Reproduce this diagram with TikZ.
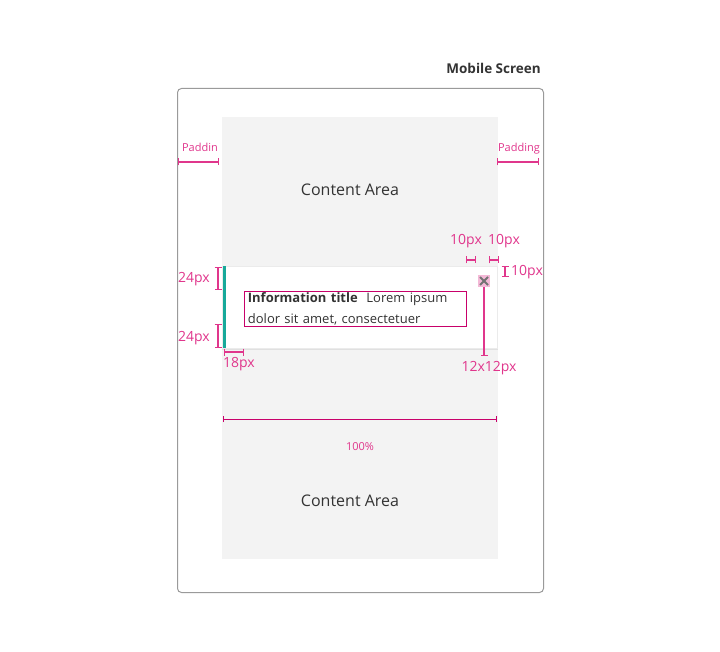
\documentclass[tikz,border=0pt]{standalone}
\usepackage{fontspec}
\setmainfont{Open Sans}
\usetikzlibrary{arrows.meta,positioning}
\definecolor{dimpink}{HTML}{E0368C}
\definecolor{boxpink}{HTML}{C8006A}
\definecolor{framegray}{HTML}{9A9A9A}
\definecolor{areagray}{HTML}{F3F3F3}
\definecolor{tealbar}{HTML}{17A99A}
\definecolor{darktext}{HTML}{333333}
\tikzset{
  dim/.style={dimpink, line width=1.3pt, {Bar[width=7pt]}-{Bar[width=7pt]}},
  widedim/.style={boxpink, line width=1pt, {Bar[width=6pt]}-{Bar[width=6pt]}},
  dimlbl/.style={text=dimpink, inner sep=0pt, font=\fontsize{14}{16}\selectfont},
  smalllbl/.style={text=dimpink, inner sep=0pt, font=\fontsize{11}{13}\selectfont},
  arealbl/.style={text=darktext, inner sep=0pt, font=\fontsize{16}{18}\selectfont}
}
\begin{document}
\begin{tikzpicture}[x=1pt, y=-1pt]
    \useasboundingbox (0,0) rectangle (720,652);
    % screen and content
    \draw[framegray, line width=1pt, rounded corners=4pt] (177.5,88.5) rectangle (543.5,592.5);
    \node[anchor=base east, inner sep=0pt, text=darktext, font=\fontsize{13.5}{16}\selectfont\bfseries] (title) at (541,74) {Mobile Screen};
    \fill[areagray] (222,117) rectangle (498,559);
    \node[arealbl] (top) at (350,190) {Content Area};
    \node[arealbl] (bottom) at (350,501) {Content Area};
    % paddings
    \coordinate (padLa) at (178,162); \coordinate (padLb) at (219,162);
    \coordinate (padRa) at (497,162); \coordinate (padRb) at (539,162);
    \draw[dim] (padLa) -- (padLb);
    \draw[dim] (padRa) -- (padRb);
    \node[smalllbl, anchor=base] (padL) at (200,152) {Paddin};
    \node[smalllbl, anchor=base] (padR) at (519,152) {Padding};
    % notification card
    \fill[black!12] (222,267) rectangle (498,350);
    \draw[black!8, fill=white] (222.5,266.5) rectangle (497.5,348);
    \fill[tealbar] (222.5,266) rectangle (226,348);
    \node[draw=boxpink, line width=0.8pt, anchor=north west, minimum width=222pt, minimum height=35pt,
          text width=215pt, align=left, inner xsep=3.5pt, inner ysep=1pt, text=darktext,
          font=\fontsize{13}{20.5}\selectfont]
          (msg) at (244,291) {\mbox{\textbf{Information title}\ \ Lorem ipsum}\\\mbox{dolor sit amet, consectetuer}};
    % close icon
    \fill[dimpink!35] (478,275) rectangle (490,287);
    \node[inner sep=0pt, minimum size=12pt] (close) at (484,281) {};
    \draw[black!55, line width=1.8pt] (480,277) -- (488,285) (488,277) -- (480,285);
    \coordinate (iconend) at (484,356);
    \draw[dimpink, line width=1.3pt, -{Bar[width=7pt]}] (close.south) -- (iconend);
    \node[dimlbl, anchor=north] (iconlbl) at (489,361) {12x12px};
    % 10px dimensions
    \coordinate (tenAa) at (466,260); \coordinate (tenAb) at (476,260);
    \coordinate (tenBa) at (489,260); \coordinate (tenBb) at (499,260);
    \coordinate (tenCa) at (505,266); \coordinate (tenCb) at (505,277);
    \draw[dim] (tenAa) -- (tenAb);
    \draw[dim] (tenBa) -- (tenBb);
    \draw[dim] (tenCa) -- (tenCb);
    \node[dimlbl, anchor=base] (tenA) at (466,245) {10px};
    \node[dimlbl, anchor=base] (tenB) at (504,245) {10px};
    \node[dimlbl, anchor=west] (tenC) at (511,272) {10px};
    % 24px and 18px dimensions
    \coordinate (topa) at (218,267); \coordinate (topb) at (218,290);
    \coordinate (bota) at (218,324); \coordinate (botb) at (218,348);
    \coordinate (lefta) at (224,352); \coordinate (leftb) at (244,352);
    \draw[dim] (topa) -- (topb);
    \draw[dim] (bota) -- (botb);
    \draw[dim] (lefta) -- (leftb);
    \node[dimlbl, anchor=east] (topl) at (210,279) {24px};
    \node[dimlbl, anchor=east] (botl) at (210,338) {24px};
    \node[dimlbl, anchor=north] (leftl) at (239,357) {18px};
    % full width
    \coordinate (fulla) at (223,419); \coordinate (fullb) at (497,419);
    \draw[widedim] (fulla) -- (fullb);
    \node[smalllbl] (full) at (360,447) {100\%};
\end{tikzpicture}
\end{document}
